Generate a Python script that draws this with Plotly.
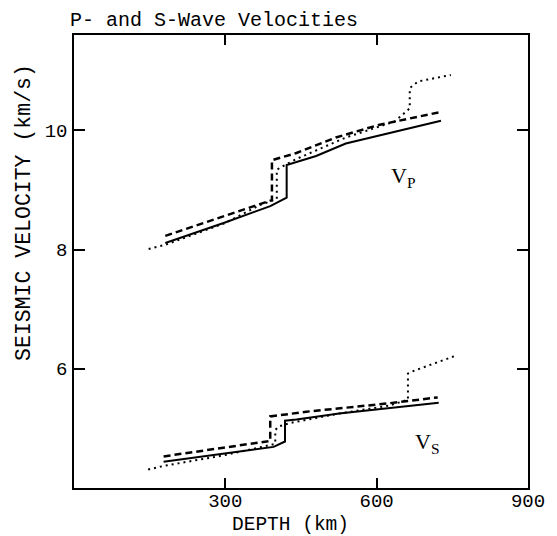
import plotly.graph_objects as go

# P-wave, solid model
p_solid_depth = [181, 298, 389, 421.6, 421.6, 441, 480, 538.8, 727.5]
p_solid_vel = [8.11, 8.45, 8.73, 8.87, 9.42, 9.47, 9.57, 9.78, 10.16]

# P-wave, dashed model
p_dash_depth = [181, 389, 392.4, 392.4, 441, 519, 603.7, 727.5]
p_dash_vel = [8.23, 8.83, 8.83, 9.50, 9.62, 9.88, 10.09, 10.31]

# P-wave, dotted model
p_dot_depth = [148, 181, 298, 369.5, 395.7, 402, 402, 412, 441, 538.8, 636, 665.6, 665.6, 682, 747]
p_dot_vel = [8.01, 8.08, 8.44, 8.75, 8.83, 8.85, 9.34, 9.39, 9.52, 9.88, 10.15, 10.37, 10.71, 10.82, 10.93]

# S-wave, solid model
s_solid_depth = [177.6, 298, 395.7, 418.3, 418.3, 441, 525.7, 723]
s_solid_vel = [4.44, 4.58, 4.69, 4.78, 5.13, 5.15, 5.25, 5.43]

# S-wave, dashed model
s_dash_depth = [177.6, 389, 389, 460.7, 623, 721]
s_dash_vel = [4.53, 4.79, 5.20, 5.28, 5.42, 5.52]

# S-wave, dotted model
s_dot_depth = [147, 177.6, 298, 389, 399, 399, 405, 428, 526, 623.5, 659, 662, 662, 675, 753.5]
s_dot_vel = [4.31, 4.37, 4.55, 4.72, 4.74, 4.97, 5.03, 5.09, 5.25, 5.38, 5.48, 5.48, 5.92, 5.97, 6.21]

x_ticks = [300, 600, 900]
y_ticks = [6, 8, 10]

mono = "Liberation Mono"

# page body has an 8px margin, so the figure is a bit smaller than the window
W, H = 549, 528

fig = go.Figure()

styles = {
    "solid": dict(color="black", width=2, dash="solid"),
    "dash": dict(color="black", width=2.5, dash="7px,4px"),
    "dot": dict(color="black", width=2, dash="2px,4px"),
}

for xs, ys, st in [
    (p_solid_depth, p_solid_vel, "solid"),
    (p_dash_depth, p_dash_vel, "dash"),
    (p_dot_depth, p_dot_vel, "dot"),
    (s_solid_depth, s_solid_vel, "solid"),
    (s_dash_depth, s_dash_vel, "dash"),
    (s_dot_depth, s_dot_vel, "dot"),
]:
    fig.add_trace(go.Scatter(x=xs, y=ys, mode="lines", line=styles[st],
                             showlegend=False, hoverinfo="skip"))

axis_common = dict(
    showgrid=False, zeroline=False, showline=True, linecolor="black",
    linewidth=1.5, mirror="ticks", ticks="inside", tickcolor="black",
    tickwidth=1.5, tickfont=dict(family=mono, size=19, color="black"),
)
fig.update_xaxes(range=[0, 900], tickvals=x_ticks, ticklen=10,
                 ticklabelstandoff=-6, **axis_common)
fig.update_yaxes(range=[4, 11.6], tickvals=y_ticks, ticklen=11,
                 ticklabelstandoff=1, **axis_common)

fig.add_annotation(text="DEPTH (km)", xref="paper", yref="paper", x=0.477, y=-0.082,
                   showarrow=False, xanchor="center", yanchor="middle",
                   font=dict(family=mono, size=19.5, color="black"))
fig.add_annotation(text="SEISMIC VELOCITY (km/s)", xref="paper", yref="paper",
                   x=-0.1106, y=0.609, textangle=-90, showarrow=False,
                   xanchor="center", yanchor="middle",
                   font=dict(family=mono, size=21.5, color="black"))
fig.add_annotation(text="V<sub>P</sub>", x=624, y=9.22, showarrow=False,
                   xanchor="left", yanchor="middle",
                   font=dict(family="Liberation Serif", size=22, color="black"))
fig.add_annotation(text="V<sub>S</sub>", x=672, y=4.76, showarrow=False,
                   xanchor="left", yanchor="middle",
                   font=dict(family="Liberation Serif", size=22, color="black"))

fig.update_layout(
    width=W, height=H,
    margin=dict(l=66, r=22, t=27, b=48),
    paper_bgcolor="white", plot_bgcolor="white",
    title=dict(text="P- and S-Wave Velocities", x=62 / W, xanchor="left",
               y=1 - 10.5 / H, yanchor="middle",
               font=dict(family=mono, size=20, color="black")),
)

fig.write_html("out.html")
